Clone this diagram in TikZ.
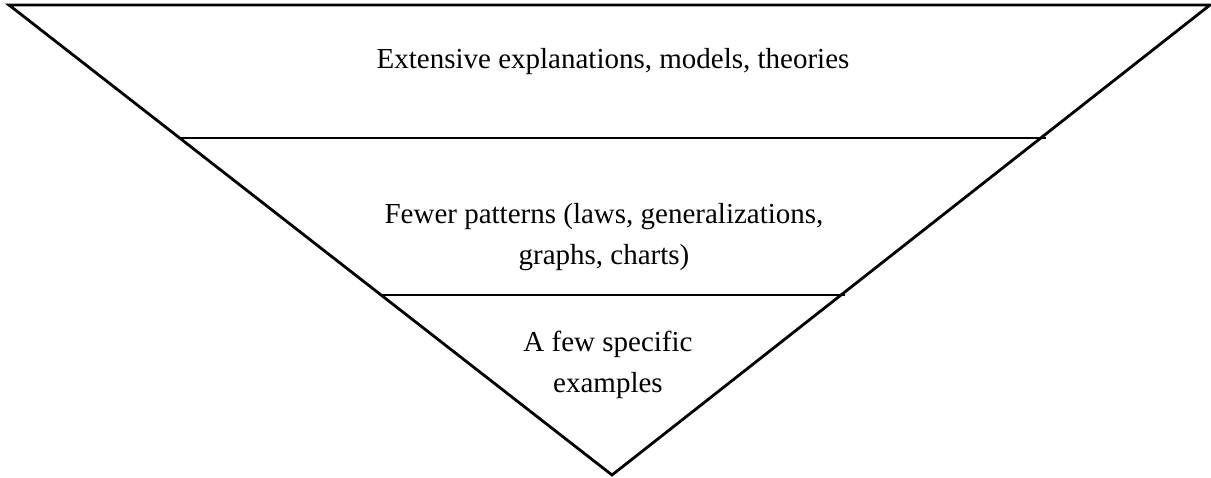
\documentclass[tikz,border=0pt]{standalone}
\usepackage{fontspec}
\setmainfont{Liberation Serif}
\begin{document}
\begin{tikzpicture}[x=1pt,y=-1pt,
  edge/.style={line width=2.8pt,line join=miter},
  label/.style={font=\fontsize{29}{41}\selectfont,align=center,anchor=base,inner sep=0pt}]
\useasboundingbox (0,0) rectangle (1211,477);
\coordinate (tl) at (9,5);
\coordinate (tr) at (1210,5);
\coordinate (ap) at (612,475);
\coordinate (m1l) at (178,138);
\coordinate (m1r) at (1046,138);
\coordinate (m2l) at (381,295);
\coordinate (m2r) at (845,295);
\draw[edge] (tl) -- (tr) -- (ap) -- cycle;
\draw[edge] (m1l) -- (m1r);
\draw[edge] (m2l) -- (m2r);
\node[label] (t1) at (613,68) {Extensive explanations, models, theories};
\node[label] (t2) at (604,264) {Fewer patterns (laws, generalizations,\\graphs, charts)};
\node[label] (t3) at (608,392) {A few specific\\examples};
\end{tikzpicture}
\end{document}
